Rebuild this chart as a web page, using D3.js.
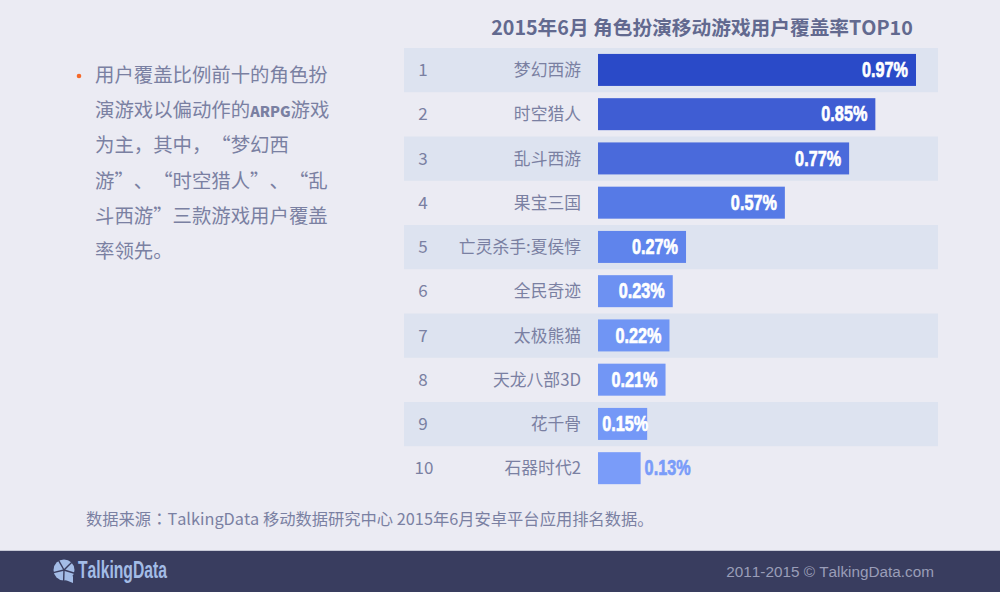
<!DOCTYPE html>
<html><head><meta charset="utf-8">
<script src="https://cdn.jsdelivr.net/npm/d3@7/dist/d3.min.js"></script>
<style>html,body{margin:0;padding:0;background:#ebebf3;overflow:hidden}svg{display:block}text{text-spacing-trim:space-all;font-kerning:none}</style>
</head><body><svg id="c" width="1000" height="592"></svg>
<script>
const ranks=[1,2,3,4,5,6,7,8,9,10];
const games=["梦幻西游","时空猎人","乱斗西游","果宝三国","亡灵杀手:夏侯惇","全民奇迹","太极熊猫","天龙八部3D","花千骨","石器时代2"];
const values=[0.97,0.846,0.766,0.57,0.2685,0.228,0.218,0.206,0.15,0.13];
const barColors=["#2a4ac8","#3f5dd3","#4a6adb","#567ae6","#5f84ec","#6d91f2","#7095f4","#7296f5","#7498f7","#7a9cf9"];
const titleText="2015年6月 角色扮演移动游戏用户覆盖率TOP10";
const noteLines=[["用户覆盖比例前十的角色扮"],["演游戏以偏动作的","ARPG","游戏"],["为主，其中，“梦幻西"],["游”、“时空猎人”、“乱"],["斗西游”三款游戏用户覆盖"],["率领先。"]];
const sourceParts=["数据来源","：","TalkingData 移动数据研究中心 2015年6月安卓平台应用排名数据。"];
const copyright="2011-2015 © TalkingData.com";
const brand="TalkingData";
const cjk='"Noto Sans CJK SC","Noto Sans",sans-serif';
const cjkTC='"Noto Sans CJK TC","Noto Sans",sans-serif';
const latin='"Liberation Sans",Arial,sans-serif';
const svg=d3.select("#c");
svg.append("rect").attr("width",1000).attr("height",592).attr("fill","#ebebf3");
const y=d3.scaleBand().domain(ranks).range([48,490.5]);
const x=d3.scaleLinear().domain([0,0.97]).range([598,916]);
svg.append("text").attr("x",702).attr("y",35).attr("text-anchor","middle")
 .attr("font-family",cjk).attr("font-weight",700).attr("font-size",19.7).attr("fill","#62698f").text(titleText);
svg.append("g").selectAll("rect").data(ranks.filter(r=>r%2)).join("rect")
 .attr("x",404).attr("width",534).attr("y",r=>y(r)).attr("height",y.bandwidth()).attr("fill","#dde3f0");
svg.append("g").selectAll("text").data(ranks).join("text")
 .attr("x",r=>r===10?424:423).attr("y",r=>y(r)+y.bandwidth()/2+6).attr("text-anchor","middle")
 .attr("font-family",cjk).attr("font-size",17).attr("fill","#7a80a2").text(r=>r);
svg.append("g").selectAll("text").data(games).join("text")
 .attr("x",581).attr("y",(d,i)=>y(ranks[i])+y.bandwidth()/2+6).attr("text-anchor","end")
 .attr("font-family",cjk).attr("font-size",16.8).attr("fill","#7a80a2").text(d=>d);
const off=(y.bandwidth()-32)/2;
svg.append("g").selectAll("rect").data(values).join("rect")
 .attr("x",x(0)).attr("y",(d,i)=>y(ranks[i])+off-0.2).attr("height",32)
 .attr("width",d=>x(d)-x(0)).attr("fill",(d,i)=>barColors[i]);
svg.append("g").selectAll("text").data(values).join("text")
 .attr("x",(d,i)=>i===9?x(d)+4:(i===8?x(d)-45:x(d)-8)).attr("y",(d,i)=>y(ranks[i])+y.bandwidth()/2+7)
 .attr("text-anchor",(d,i)=>i>=8?"start":"end")
 .attr("font-family",latin).attr("font-weight",700).attr("font-size",22)
 .attr("textLength",46).attr("lengthAdjust","spacingAndGlyphs")
 .attr("stroke",(d,i)=>i===9?"#7a9cf9":"#fff").attr("stroke-width",0.7)
 .attr("fill",(d,i)=>i===9?"#7a9cf9":"#fff").text(d=>d.toFixed(2)+"%");
svg.append("circle").attr("cx",79).attr("cy",76).attr("r",2.3).attr("fill","#f5692a");
const note=svg.append("g").selectAll("text").data(noteLines).join("text")
 .attr("x",95).attr("y",(d,i)=>82+i*35.2).attr("font-family",cjk).attr("font-size",19.4).attr("fill","#7a80a2");
note.selectAll("tspan").data(d=>d).join("tspan")
 .attr("font-weight",d=>d==="ARPG"?800:null).attr("font-size",d=>d==="ARPG"?14.5:null).text(d=>d);
svg.append("text").attr("x",86).attr("y",525).attr("font-family",cjk).attr("font-size",16.3).attr("fill","#7a80a2")
 .selectAll("tspan").data(sourceParts).join("tspan").attr("font-family",d=>d==="："?cjkTC:null).text(d=>d);
svg.append("rect").attr("y",551).attr("width",1000).attr("height",41).attr("fill","#393d5f");
svg.append("rect").attr("y",550).attr("width",1000).attr("height",1).attr("fill","#c6c8d6");
const logo=svg.append("g").attr("transform","translate(64,570)");
logo.append("circle").attr("r",10.5).attr("fill","#a3bce6");
logo.append("path").attr("d","M-1,9 L9,6 L9,13 Z").attr("fill","#a3bce6");
logo.append("g").selectAll("line").data(d3.range(5)).join("line")
 .attr("x1",0).attr("y1",0).attr("x2",d=>11*Math.cos(d*1.3+0.3)).attr("y2",d=>11*Math.sin(d*1.3+0.3))
 .attr("stroke","#393d5f").attr("stroke-width",1.4);
svg.append("text").attr("x",78).attr("y",578).attr("font-family",latin)
 .attr("font-weight",700).attr("font-size",23).attr("textLength",89).attr("lengthAdjust","spacingAndGlyphs")
 .attr("fill","#a3bce6").text(brand);
svg.append("text").attr("x",934).attr("y",577).attr("text-anchor","end").attr("font-family",latin)
 .attr("font-size",15.3).attr("fill","#9a9db8").text(copyright);
</script></body></html>
